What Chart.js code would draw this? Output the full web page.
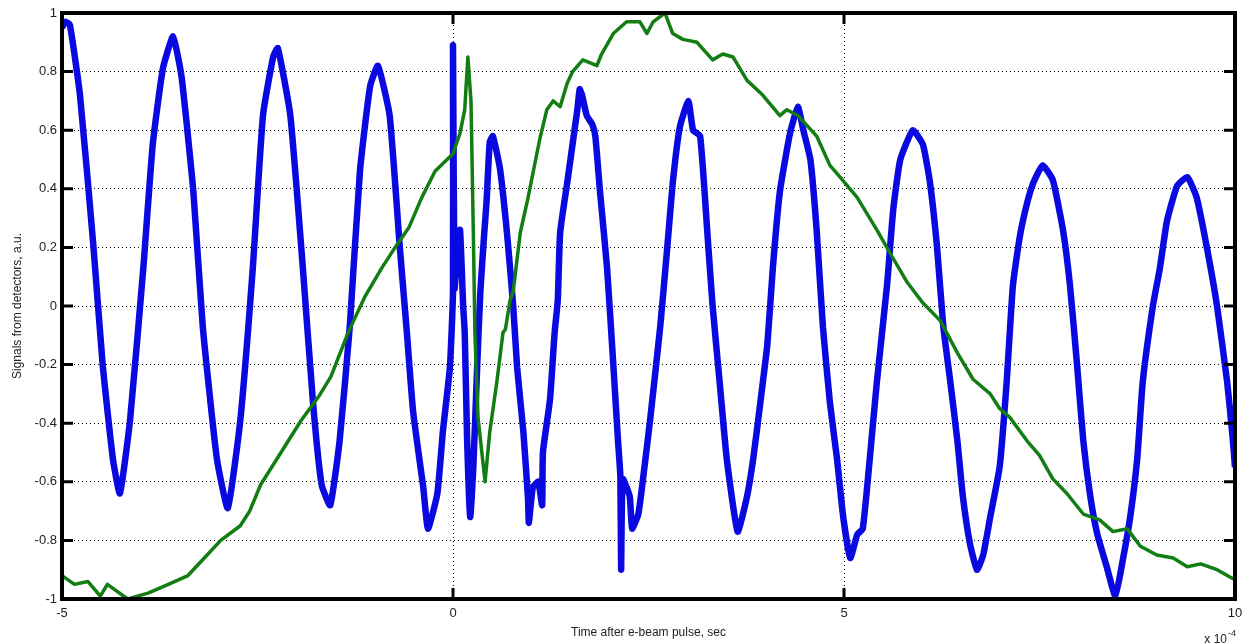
<!DOCTYPE html>
<html>
<head>
<meta charset="utf-8">
<script src="https://cdn.jsdelivr.net/npm/chart.js@4/dist/chart.umd.min.js"></script>
<style>
  html, body { margin: 0; padding: 0; background: #fff; }
  canvas { display: block; }
</style>
</head>
<body>
<canvas id="signals" width="1256" height="644"></canvas>
<script>
// time axis is in units of 1e-4 s
const blueTime = [
  -5.00, -4.96, -4.90, -4.77, -4.60, -4.48, -4.35, -4.26, -4.13, -3.96,
  -3.84, -3.71, -3.58, -3.47, -3.32, -3.20, -3.02, -2.88, -2.72, -2.56,
  -2.43, -2.30, -2.24, -2.08, -1.92, -1.79, -1.68, -1.57, -1.45, -1.32,
  -1.19, -1.06, -0.96, -0.81, -0.68, -0.59, -0.51, -0.38, -0.32, -0.20,
  -0.13, -0.04, 0.00, 0.00, 0.02, 0.06, 0.09, 0.13, 0.15, 0.18,
  0.22, 0.26, 0.31, 0.35, 0.40, 0.43, 0.47, 0.51, 0.60, 0.69,
  0.77, 0.82, 0.90, 0.96, 0.97, 1.02, 1.09, 1.14, 1.15, 1.24,
  1.30, 1.34, 1.37, 1.46, 1.59, 1.62, 1.65, 1.71, 1.78, 1.82,
  1.88, 1.97, 2.05, 2.11, 2.14, 2.15, 2.17, 2.26, 2.29, 2.37,
  2.43, 2.52, 2.65, 2.74, 2.81, 2.90, 3.01, 3.07, 3.16, 3.25,
  3.32, 3.41, 3.50, 3.64, 3.76, 3.84, 3.93, 4.02, 4.09, 4.18,
  4.31, 4.41, 4.48, 4.57, 4.65, 4.73, 4.82, 4.91, 4.99, 5.08,
  5.17, 5.24, 5.33, 5.42, 5.55, 5.63, 5.72, 5.88, 6.01, 6.10,
  6.19, 6.27, 6.36, 6.45, 6.52, 6.61, 6.70, 6.78, 6.87, 6.99,
  7.08, 7.16, 7.25, 7.34, 7.42, 7.54, 7.67, 7.80, 7.89, 7.98,
  8.06, 8.15, 8.24, 8.36, 8.47, 8.57, 8.66, 8.75, 8.82, 8.95,
  9.04, 9.13, 9.26, 9.39, 9.51, 9.64, 9.77, 9.90, 9.97, 10.00
];
const blueSignal = [
  0.95, 0.97, 0.96, 0.72, 0.21, -0.20, -0.52, -0.64, -0.39, 0.13,
  0.55, 0.81, 0.92, 0.78, 0.39, -0.07, -0.52, -0.69, -0.39, 0.13,
  0.65, 0.85, 0.88, 0.65, 0.13, -0.33, -0.61, -0.68, -0.46, -0.07,
  0.46, 0.75, 0.82, 0.65, 0.20, -0.09, -0.36, -0.62, -0.76, -0.64,
  -0.43, -0.21, 0.05, 0.89, 0.06, 0.22, 0.26, 0.00, -0.09, -0.45,
  -0.72, -0.55, -0.20, 0.05, 0.25, 0.36, 0.56, 0.58, 0.47, 0.25,
  0.00, -0.21, -0.43, -0.66, -0.74, -0.62, -0.60, -0.68, -0.50, -0.32,
  -0.09, 0.02, 0.25, 0.42, 0.67, 0.74, 0.72, 0.65, 0.62, 0.58,
  0.39, 0.13, -0.20, -0.46, -0.58, -0.90, -0.59, -0.65, -0.76, -0.71,
  -0.59, -0.39, -0.07, 0.20, 0.42, 0.61, 0.70, 0.60, 0.58, 0.26,
  0.00, -0.26, -0.52, -0.77, -0.65, -0.52, -0.33, -0.13, 0.13, 0.39,
  0.59, 0.68, 0.60, 0.50, 0.26, -0.07, -0.33, -0.52, -0.72, -0.86,
  -0.78, -0.76, -0.52, -0.26, 0.07, 0.33, 0.50, 0.60, 0.55, 0.42,
  0.20, -0.07, -0.26, -0.46, -0.65, -0.81, -0.90, -0.85, -0.72, -0.55,
  -0.26, 0.07, 0.24, 0.35, 0.42, 0.48, 0.43, 0.26, 0.07, -0.20,
  -0.46, -0.65, -0.78, -0.89, -0.99, -0.86, -0.72, -0.52, -0.26, 0.00,
  0.13, 0.29, 0.41, 0.44, 0.37, 0.20, 0.00, -0.26, -0.45, -0.55
];

const greenTime = [
  -5.00, -4.84, -4.67, -4.51, -4.42, -4.16, -3.90, -3.64, -3.39, -3.18,
  -2.97, -2.72, -2.60, -2.46, -2.20, -1.94, -1.72, -1.56, -1.34, -1.13,
  -0.91, -0.74, -0.56, -0.40, -0.23, 0.00, 0.09, 0.15, 0.19, 0.23,
  0.26, 0.28, 0.32, 0.41, 0.47, 0.56, 0.64, 0.67, 0.73, 0.77,
  0.86, 0.96, 1.02, 1.11, 1.20, 1.28, 1.37, 1.46, 1.53, 1.66,
  1.84, 1.90, 2.05, 2.22, 2.39, 2.48, 2.56, 2.71, 2.81, 2.94,
  3.12, 3.32, 3.45, 3.58, 3.76, 3.96, 4.18, 4.27, 4.41, 4.65,
  4.82, 4.95, 5.17, 5.42, 5.59, 5.81, 6.01, 6.23, 6.45, 6.65,
  6.87, 6.99, 7.12, 7.34, 7.50, 7.67, 7.85, 8.06, 8.27, 8.44,
  8.62, 8.79, 9.00, 9.21, 9.39, 9.56, 9.77, 9.97, 10.00
];
const greenSignal = [
  -0.92, -0.95, -0.94, -0.99, -0.95, -1.00, -0.98, -0.95, -0.92, -0.86,
  -0.80, -0.75, -0.70, -0.61, -0.50, -0.39, -0.31, -0.24, -0.09, 0.03,
  0.13, 0.20, 0.27, 0.37, 0.46, 0.52, 0.59, 0.67, 0.85, 0.70,
  0.25, -0.09, -0.38, -0.60, -0.43, -0.26, -0.09, -0.08, 0.02, 0.05,
  0.25, 0.37, 0.45, 0.57, 0.67, 0.70, 0.68, 0.76, 0.80, 0.84,
  0.82, 0.86, 0.93, 0.97, 0.97, 0.93, 0.97, 1.00, 0.93, 0.91,
  0.90, 0.84, 0.86, 0.85, 0.77, 0.72, 0.65, 0.67, 0.65, 0.58,
  0.48, 0.44, 0.37, 0.26, 0.18, 0.08, 0.01, -0.05, -0.16, -0.25,
  -0.30, -0.35, -0.38, -0.46, -0.51, -0.59, -0.64, -0.71, -0.73, -0.77,
  -0.76, -0.82, -0.85, -0.86, -0.89, -0.88, -0.90, -0.93, -0.93
];

const xTickValues = [-5, 0, 5, 10];
const yTickValues = [-1, -0.8, -0.6, -0.4, -0.2, 0, 0.2, 0.4, 0.6, 0.8, 1];

const FONT = "'Liberation Sans', Arial, sans-serif";

function points(xs, ys) {
    const n = Math.min(xs.length, ys.length);
    const out = [];
    for (let i = 0; i < n; i++) out.push({ x: xs[i], y: ys[i] });
    return out;
}

// matlab style labels: 1, 0.8, ..., 0, ..., -1
function shortLabel(v) {
    return String(Math.round(v * 10) / 10);
}

// black box round the plot, inward tick marks, and the x10^-4 factor
const framePlugin = {
    id: 'frame',
    afterDraw(chart) {
        const { ctx, chartArea: a, scales } = chart;
        ctx.save();
        ctx.strokeStyle = '#000';
        ctx.lineWidth = 3;
        ctx.beginPath();
        yTickValues.forEach(v => {
            const py = scales.y.getPixelForValue(v);
            ctx.moveTo(a.left, py); ctx.lineTo(a.left + 11, py);
            ctx.moveTo(a.right, py); ctx.lineTo(a.right - 11, py);
        });
        xTickValues.forEach(v => {
            const px = scales.x.getPixelForValue(v);
            ctx.moveTo(px, a.top); ctx.lineTo(px, a.top + 11);
            ctx.moveTo(px, a.bottom); ctx.lineTo(px, a.bottom - 11);
        });
        ctx.stroke();
        ctx.lineWidth = 4;
        ctx.strokeRect(a.left, a.top, a.right - a.left, a.bottom - a.top);

        ctx.fillStyle = '#222';
        ctx.textBaseline = 'alphabetic';
        ctx.textAlign = 'right';
        ctx.font = '12px ' + FONT;
        ctx.fillText('x 10', a.right - 8, 643);
        ctx.textAlign = 'left';
        ctx.font = '9px ' + FONT;
        ctx.fillText('-4', a.right - 7, 636);
        ctx.restore();
    }
};

new Chart(document.getElementById('signals'), {
    type: 'line',
    data: {
        datasets: [
            {
                label: 'detector 1',
                data: points(blueTime, blueSignal),
                borderColor: '#0a0ae0',
                borderWidth: 6.5,
                pointRadius: 0,
                tension: 0.15,
                borderJoinStyle: 'round',
                order: 1
            },
            {
                label: 'detector 2',
                data: points(greenTime, greenSignal),
                borderColor: '#127d12',
                borderWidth: 3.5,
                pointRadius: 0,
                tension: 0,
                borderJoinStyle: 'round',
                order: 0
            }
        ]
    },
    options: {
        responsive: false,
        animation: false,
        events: [],
        layout: { padding: { top: 13, right: 21, left: 0, bottom: 0 } },
        plugins: { legend: { display: false }, tooltip: { enabled: false } },
        scales: {
            x: {
                type: 'linear',
                min: -5,
                max: 10,
                afterBuildTicks: s => { s.ticks = xTickValues.map(v => ({ value: v })); },
                afterFit: s => { s.height = 45; },
                ticks: { font: { family: FONT, size: 13 }, color: '#222', padding: 7, maxRotation: 0, autoSkip: false, callback: shortLabel },
                grid: { color: '#000', lineWidth: 1, drawTicks: false },
                border: { display: false, dash: [1, 3] },
                title: {
                    display: true,
                    text: 'Time after e-beam pulse, sec',
                    font: { family: FONT, size: 12 },
                    color: '#222',
                    padding: { top: 0, bottom: 4 }
                }
            },
            y: {
                type: 'linear',
                min: -1,
                max: 1,
                afterBuildTicks: s => { s.ticks = yTickValues.map(v => ({ value: v })); },
                afterFit: s => { s.width = 62; },
                ticks: { font: { family: FONT, size: 13 }, color: '#222', padding: 5, autoSkip: false, callback: shortLabel },
                grid: { color: '#000', lineWidth: 1, drawTicks: false },
                border: { display: false, dash: [1, 3] },
                title: {
                    display: true,
                    text: 'Signals from detectors, a.u.',
                    font: { family: FONT, size: 12 },
                    color: '#222',
                    padding: { top: 10, bottom: 0 }
                }
            }
        }
    },
    plugins: [framePlugin]
});
</script>
</body>
</html>
